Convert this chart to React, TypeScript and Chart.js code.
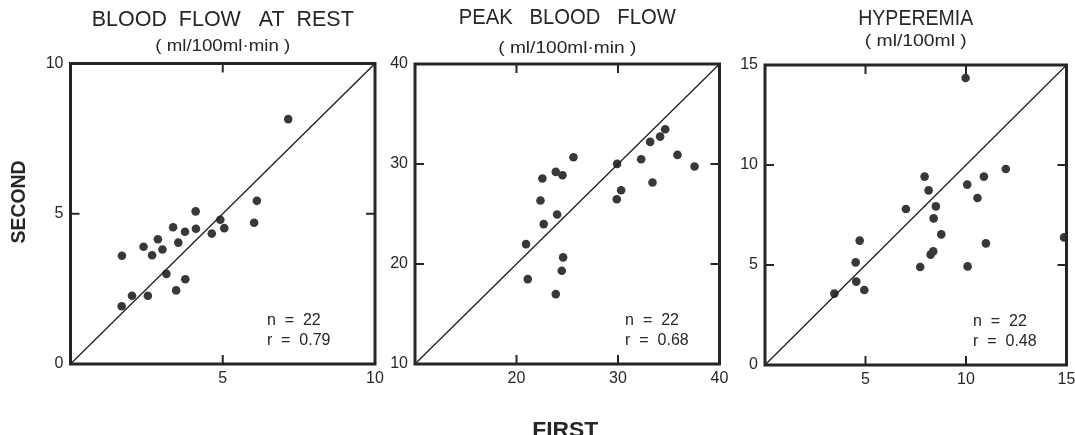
import React, { useEffect, useRef } from 'react';
import { Chart, registerables } from 'chart.js';

Chart.register(...registerables);

// ---- Data ----
const restFirst = [7.15, 6.12, 6.03, 4.92, 5.05, 4.64, 4.11, 4.12, 3.76, 3.37, 3.54, 2.87, 3.02, 2.40, 2.68, 1.69, 3.15, 3.77, 3.47, 2.02, 2.54, 1.68];
const restSecond = [8.15, 5.43, 4.70, 4.80, 4.52, 4.34, 5.08, 4.50, 4.40, 4.55, 4.04, 4.15, 3.81, 3.90, 3.62, 3.60, 3.00, 2.82, 2.45, 2.27, 2.27, 1.92];

const peakFirst = [34.65, 34.15, 33.17, 35.86, 32.28, 37.54, 29.91, 33.40, 30.31, 29.88, 25.61, 23.87, 24.53, 22.55, 22.36, 24.00, 22.68, 20.94, 24.59, 24.46, 21.11, 23.87];
const peakSecond = [33.48, 32.74, 32.21, 30.91, 30.48, 29.75, 30.01, 28.15, 27.38, 26.48, 30.68, 29.21, 28.88, 28.55, 26.35, 24.95, 23.99, 21.99, 20.66, 19.32, 18.49, 16.99];

const hypFirst = [9.98, 11.98, 10.89, 7.94, 10.06, 8.14, 10.57, 7.01, 8.50, 8.39, 8.77, 4.71, 10.99, 14.88, 8.37, 8.24, 4.51, 7.72, 10.08, 4.54, 4.94, 3.45];
const hypSecond = [14.35, 9.80, 9.42, 9.42, 9.02, 8.73, 8.35, 7.80, 7.93, 7.33, 6.53, 6.22, 6.08, 6.38, 5.68, 5.52, 5.13, 4.90, 4.93, 4.17, 3.75, 3.57];

const titles = ['BLOOD  FLOW   AT  REST', 'PEAK   BLOOD   FLOW', 'HYPEREMIA'];
const subtitles = ['( ml/100ml·min )', '( ml/100ml·min )', '( ml/100ml )'];
const axisMins = [0, 10, 0];
const axisMaxs = [10, 40, 15];
const axisSteps = [5, 10, 5];
const innerTicks = [[5], [20, 30], [5, 10]];
const nLabels = ['n  =  22', 'n  =  22', 'n  =  22'];
const rLabels = ['r  =  0.79', 'r  =  0.68', 'r  =  0.48'];
const yAxisTitle = 'SECOND';
const xAxisTitle = 'FIRST';

// ---- Layout / styling ----
const W = 1075;
const H = 435;
const FONT = "'Liberation Sans', Arial, sans-serif";
const INK = '#262626';
const YAXIS_W = 50;
const XAXIS_H = 30;

type Layout = { l: number; t: number; r: number; b: number; titleY: number; titleW: number; subY: number; subW: number; annX: number };
const layouts: Layout[] = [
  { l: 70.5, t: 63.5, r: 375, b: 364, titleY: 20, titleW: 262, subY: 47, subW: 135, annX: 0.645 },
  { l: 415, t: 64, r: 719.5, b: 364, titleY: 18, titleW: 217, subY: 49, subW: 138, annX: 0.69 },
  { l: 765, t: 65, r: 1066.5, b: 365, titleY: 19, titleW: 115, subY: 42, subW: 102, annX: 0.69 },
];

function fitText(ctx: CanvasRenderingContext2D, text: string, cx: number, cy: number, width: number, font: string, rotate = 0) {
  ctx.save();
  ctx.font = font;
  const w = ctx.measureText(text).width;
  ctx.translate(cx, cy);
  if (rotate) ctx.rotate(rotate);
  ctx.scale(width / w, 1);
  ctx.textAlign = 'center';
  ctx.textBaseline = 'middle';
  ctx.fillStyle = INK;
  ctx.fillText(text, 0, 0);
  ctx.restore();
}

function makeChart(canvas: HTMLCanvasElement, i: number, xs: number[], ys: number[]) {
  const L = layouts[i];
  const min = axisMins[i];
  const max = axisMaxs[i];
  const step = axisSteps[i];
  const pts = xs.map((x, k) => ({ x, y: ys[k] }));

  const decor = {
    id: 'decor' + i,
    afterDraw(chart: any) {
      const { ctx, chartArea: a, scales } = chart;
      ctx.save();
      ctx.strokeStyle = INK;
      ctx.lineWidth = 3;
      ctx.strokeRect(a.left, a.top, a.right - a.left, a.bottom - a.top);
      ctx.lineWidth = 2;
      const seg = (x1: number, y1: number, x2: number, y2: number) => {
        ctx.beginPath();
        ctx.moveTo(x1, y1);
        ctx.lineTo(x2, y2);
        ctx.stroke();
      };
      for (const v of innerTicks[i]) {
        const px = scales.x.getPixelForValue(v);
        const py = scales.y.getPixelForValue(v);
        seg(px, a.top, px, a.top + 9);
        seg(px, a.bottom, px, a.bottom - 9);
        seg(a.left, py, a.left + 9, py);
        seg(a.right, py, a.right - 9, py);
      }
      ctx.restore();

      // annotation
      ctx.save();
      ctx.fillStyle = INK;
      ctx.font = `16px ${FONT}`;
      ctx.textAlign = 'left';
      ctx.textBaseline = 'middle';
      const ax = a.left + L.annX * (a.right - a.left);
      ctx.fillText(nLabels[i], ax, a.bottom - 43);
      ctx.fillText(rLabels[i], ax, a.bottom - 23);
      ctx.restore();

      // titles
      const cx = (a.left + a.right) / 2;
      fitText(ctx, titles[i], cx, L.titleY, L.titleW, `22px ${FONT}`);
      fitText(ctx, subtitles[i], cx, L.subY, L.subW, `16px ${FONT}`);

      if (i === 0) {
        fitText(ctx, yAxisTitle, 19, 202, 83, `bold 20px ${FONT}`, -Math.PI / 2);
      }
      if (i === 1) {
        ctx.save();
        ctx.font = `bold 22px ${FONT}`;
        const w = ctx.measureText(xAxisTitle).width;
        ctx.translate(cx - 2, 420);
        ctx.scale(66 / w, 1);
        ctx.textAlign = 'center';
        ctx.textBaseline = 'top';
        ctx.fillStyle = INK;
        ctx.fillText(xAxisTitle, 0, 0);
        ctx.restore();
      }
    },
  };

  return new Chart(canvas, {
    type: 'scatter',
    data: {
      datasets: [
        {
          type: 'line',
          data: [{ x: min, y: min }, { x: max, y: max }],
          borderColor: '#1e1e1e',
          borderWidth: 1.3,
          pointRadius: 0,
          fill: false,
        } as any,
        {
          type: 'scatter',
          data: pts,
          backgroundColor: '#383838',
          borderColor: '#383838',
          borderWidth: 0,
          pointRadius: 4.3,
        },
      ],
    },
    options: {
      animation: false,
      responsive: true,
      maintainAspectRatio: false,
      events: [],
      layout: { padding: { left: L.l - YAXIS_W, top: L.t, right: W - L.r, bottom: H - L.b - XAXIS_H } },
      plugins: { legend: { display: false }, tooltip: { enabled: false }, title: { display: false } },
      scales: {
        x: {
          type: 'linear',
          min,
          max,
          grid: { display: false, drawTicks: false },
          border: { display: false },
          ticks: {
            stepSize: step,
            autoSkip: false,
            maxRotation: 0,
            padding: 5,
            color: INK,
            font: { family: FONT, size: 16 },
            callback: (v: any) => (v === min ? '' : String(v)),
          },
          afterFit: (s: any) => {
            s.height = XAXIS_H;
            s.paddingLeft = 0;
            s.paddingRight = 0;
          },
        },
        y: {
          type: 'linear',
          min,
          max,
          grid: { display: false, drawTicks: false },
          border: { display: false },
          ticks: {
            stepSize: step,
            autoSkip: false,
            padding: 7,
            color: INK,
            font: { family: FONT, size: 16 },
            callback: (v: any) => String(v),
          },
          afterFit: (s: any) => {
            s.width = YAXIS_W;
            s.paddingTop = 0;
            s.paddingBottom = 0;
          },
        },
      },
    },
    plugins: [decor],
  } as any);
}

export default function App() {
  const r0 = useRef<HTMLCanvasElement>(null);
  const r1 = useRef<HTMLCanvasElement>(null);
  const r2 = useRef<HTMLCanvasElement>(null);

  useEffect(() => {
    const charts = [
      makeChart(r0.current!, 0, restFirst, restSecond),
      makeChart(r1.current!, 1, peakFirst, peakSecond),
      makeChart(r2.current!, 2, hypFirst, hypSecond),
    ];
    return () => charts.forEach((c) => c.destroy());
  }, []);

  const layer: React.CSSProperties = { position: 'absolute', left: 0, top: 0, width: W, height: H };
  return (
    <div style={{ position: 'fixed', left: 0, top: 0, width: W, height: H, background: '#fff', overflow: 'hidden' }}>
      <div style={layer}><canvas ref={r0} /></div>
      <div style={layer}><canvas ref={r1} /></div>
      <div style={layer}><canvas ref={r2} /></div>
    </div>
  );
}
